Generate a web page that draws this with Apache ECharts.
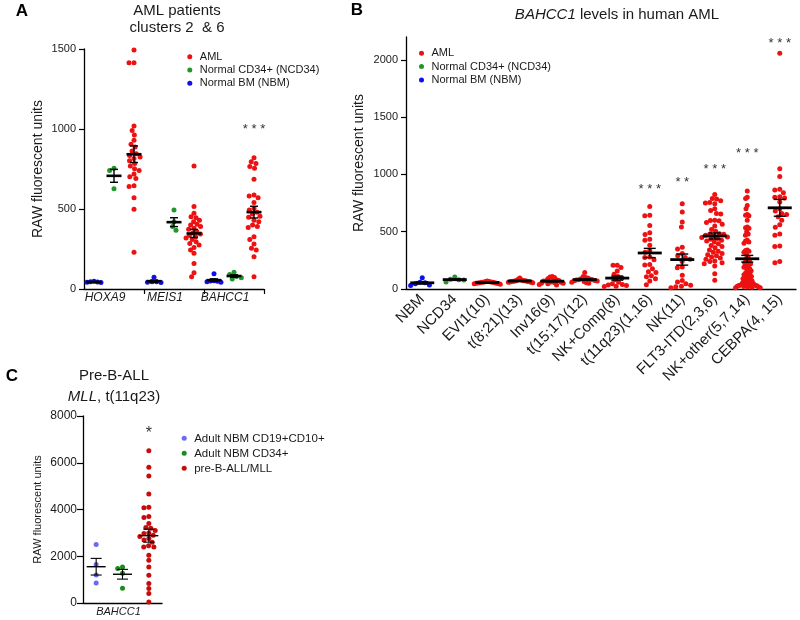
<!DOCTYPE html>
<html><head><meta charset="utf-8">
<script src="https://cdn.jsdelivr.net/npm/echarts@6/dist/echarts.min.js"></script>
<style>html,body{margin:0;padding:0;background:#fff}#c{width:800px;height:620px}</style>
</head><body><div id="c"></div>
<script>
// ---------- DATA ----------
// Panel A : AML patients clusters 2 & 6
const A_GENES = ['HOXA9', 'MEIS1', 'BAHCC1'];
const A_HOXA9_NBM = [48, 44, 40, 46, 42];
const A_HOXA9_NCD34 = [755, 740, 627];
const A_HOXA9_AML = [1494, 1414, 1414, 1019, 990, 962, 930, 905, 887, 862, 845, 835, 825, 816, 802, 785, 769, 752, 740, 719, 702, 690, 646, 640, 571, 498, 229];
const A_MEIS1_NBM = [73, 45, 40, 42, 45];
const A_MEIS1_NCD34 = [494, 420, 390, 367];
const A_MEIS1_AML = [769, 515, 473, 452, 446, 430, 421, 405, 400, 390, 380, 373, 358, 350, 344, 335, 327, 318, 310, 296, 285, 275, 260, 244, 223, 160, 102, 77];
const A_BAHCC1_NBM = [95, 50, 45, 48, 52, 42];
const A_BAHCC1_NCD34 = [105, 90, 70, 62, 78];
const A_BAHCC1_AML = [821, 795, 785, 765, 754, 686, 570, 588, 581, 540, 505, 494, 480, 469, 455, 448, 430, 421, 400, 390, 385, 327, 310, 281, 254, 244, 202, 77];
const A_SIG = [{ x: 8, y: 1000, t: '* * *' }];

// Panel B : BAHCC1 levels in human AML
const B_CATEGORIES = ['NBM', 'NCD34', 'EVI1(10)', 't(8;21)(13)', 'Inv16(9)', 't(15;17)(12)', 'NK+Comp(8)', 't(11q23)(1,16)', 'NK(11)', 'FLT3-ITD(2,3,6)', 'NK+other(5,7,14)', 'CEBPA(4, 15)'];
const B_NBM = [99, 55, 30, 35, 45, 60];
const B_NCD34 = [105, 85, 80, 62, 78];
const B_EVI1 = [70, 65, 62, 60, 58, 55, 52, 50, 48, 45, 42, 60, 66, 55, 50];
const B_T821 = [95, 85, 80, 75, 72, 70, 68, 65, 62, 60, 58, 70, 75, 66, 64, 55];
const B_INV16 = [110, 105, 100, 90, 80, 75, 70, 65, 60, 55, 50, 45, 40, 35, 60, 70, 50];
const B_T1517 = [143, 110, 100, 95, 90, 85, 80, 78, 75, 70, 65, 60, 55, 50, 80, 72];
const B_NKCOMP = [207, 207, 187, 157, 128, 110, 95, 80, 60, 45, 35, 25, 30, 40, 22];
const B_T11Q23 = [721, 643, 640, 555, 490, 475, 435, 425, 381, 337, 320, 279, 275, 256, 213, 210, 176, 150, 145, 115, 108, 90, 70, 38];
const B_NK = [744, 672, 584, 541, 365, 350, 309, 290, 274, 260, 240, 192, 185, 119, 75, 61, 45, 32, 25, 20, 10];
const B_FLT3 = [826, 790, 785, 770, 755, 750, 745, 700, 686, 660, 655, 600, 599, 595, 580, 565, 550, 520, 505, 483, 480, 478, 470, 465, 455, 450, 440, 435, 425, 420, 410, 395, 380, 370, 360, 340, 330, 320, 310, 300, 290, 280, 270, 260, 244, 240, 230, 220, 200, 134, 76];
const B_NKOTHER = [855, 802, 790, 730, 700, 650, 643, 640, 600, 541, 535, 530, 500, 480, 470, 425, 420, 410, 400, 340, 337, 330, 320, 300, 280, 260, 250, 240, 230, 220, 210, 200, 190, 180, 170, 160, 150, 140, 130, 125, 120, 110, 100, 95, 90, 80, 75, 70, 60, 55, 50, 45, 40, 38, 35, 32, 30, 28, 25, 22, 20, 18, 15, 12, 10];
const B_CEBPA = [2058, 1050, 983, 870, 865, 840, 805, 800, 795, 760, 700, 660, 680, 650, 630, 600, 560, 540, 480, 470, 375, 370, 240, 230];
const B_Y_TICKS = [0, 500, 1000, 1500, 2000];
const B_SIG = [
  { x: 7, y: 870, t: '* * *' }, { x: 8, y: 929, t: '* *' }, { x: 9, y: 1045, t: '* * *' },
  { x: 10, y: 1185, t: '* * *' }, { x: 11, y: 2145, t: '* * *' }
];

// Panel C : Pre-B-ALL MLL t(11q23)
const C_GROUPS = ['Adult NBM CD19+CD10+', 'Adult NBM CD34+', 'pre-B-ALL/MLL'];
const C_CD19 = [2503, 1650, 1200, 857];
const C_CD34 = [1540, 1480, 1270, 630];
const C_PREB = [6515, 5803, 5430, 4659, 4100, 4070, 3700, 3660, 3403, 3231, 3200, 3100, 3000, 2974, 2900, 2850, 2760, 2700, 2600, 2450, 2400, 2400, 2044, 1830, 1543, 1187, 831, 617, 403, 43];
const C_SIG = [{ x: 2, y: 7250, t: '*' }];

// ---------- STYLE / LAYOUT ----------
const FONT = "'Liberation Sans', Arial, Helvetica, sans-serif";
const TXT = '#1a1a1a';
const RED = '#ee1111', GREEN = '#23952a', BLUE = '#1010e8';
const C_BLUE = '#6a6af2', C_GREEN = '#1a8c1a', C_RED = '#c80c0c';
const GA = { left: 84, top: 49, width: 180, height: 240 };
const GB = { left: 406, top: 37, width: 390, height: 252 };
const GC = { left: 83, top: 416, width: 79, height: 187 };
const A_MAX = 1500, B_MAX = 2200, C_MAX = 8000;

function mean(a) { return a.reduce((s, v) => s + v, 0) / a.length; }
function sem(a) {
  const m = mean(a);
  const v = a.reduce((s, x) => s + (x - m) * (x - m), 0) / (a.length - 1);
  return Math.sqrt(v) / Math.sqrt(a.length);
}
// beeswarm offsets (pixels) computed from the values
function swarm(vals, pxPer, d, maxHalf) {
  const idx = vals.map((v, i) => i).sort((a, b) => vals[b] - vals[a]);
  const placed = [], off = new Array(vals.length).fill(0);
  idx.forEach(i => {
    const y = vals[i] * pxPer;
    const blocks = [];
    placed.forEach(p => {
      const dy = Math.abs(p.y - y);
      if (dy < d) { const w = Math.sqrt(d * d - dy * dy); blocks.push([p.x - w, p.x + w]); }
    });
    const cands = [0];
    blocks.forEach(b => cands.push(b[0], b[1]));
    cands.sort((a, b) => (Math.abs(a) - Math.abs(b)) || (a - b));
    let x = 0;
    for (const c of cands) {
      if (blocks.every(b => c <= b[0] + 1e-6 || c >= b[1] - 1e-6)) { x = c; break; }
    }
    placed.push({ x, y }); off[i] = x;
  });
  const m = Math.max(...off.map(Math.abs));
  if (m > maxHalf) for (let k = 0; k < off.length; k++) off[k] *= maxHalf / m;
  return off;
}
function dots(vals, xi, pxPer, maxHalf) {
  const off = swarm(vals, pxPer, 5, maxHalf);
  return vals.map((v, i) => ({ value: [xi, v], symbolOffset: [off[i], 0] }));
}
function scatter(name, color, xAxisIndex, yAxisIndex, data) {
  return { type: 'scatter', name, xAxisIndex, yAxisIndex, symbol: 'circle', symbolSize: 5,
    itemStyle: { color, opacity: 1 }, data, z: 2, silent: true };
}
function meanSeries(xAxisIndex, yAxisIndex, groups, halfW, capW, meanLW, errLW) {
  return {
    type: 'custom', xAxisIndex, yAxisIndex, z: 10, silent: true,
    data: groups.map(g => [g[0], mean(g[1]), sem(g[1])]),
    renderItem(params, api) {
      const x = api.value(0), m = api.value(1), s = api.value(2);
      const c = api.coord([x, m]), t = api.coord([x, m + s]), b = api.coord([x, m - s]);
      const st = lw => ({ stroke: '#000', lineWidth: lw });
      return { type: 'group', children: [
        { type: 'line', shape: { x1: c[0], y1: t[1], x2: c[0], y2: b[1] }, style: st(errLW) },
        { type: 'line', shape: { x1: c[0] - capW, y1: t[1], x2: c[0] + capW, y2: t[1] }, style: st(errLW) },
        { type: 'line', shape: { x1: c[0] - capW, y1: b[1], x2: c[0] + capW, y2: b[1] }, style: st(errLW) },
        { type: 'line', shape: { x1: c[0] - halfW, y1: c[1], x2: c[0] + halfW, y2: c[1] }, style: st(meanLW) }
      ] };
    }
  };
}
function sigSeries(xAxisIndex, yAxisIndex, items, fs) {
  return {
    type: 'custom', xAxisIndex, yAxisIndex, z: 11, silent: true,
    data: items.map(s => [s.x, s.y]),
    renderItem(params, api) {
      const p = api.coord([api.value(0), api.value(1)]);
      return { type: 'text', x: p[0], y: p[1], style: { text: items[params.dataIndex].t, fill: '#333',
        font: fs + 'px ' + FONT, align: 'center', verticalAlign: 'middle', textAlign: 'center', textVerticalAlign: 'middle' } };
    }
  };
}
const plain = v => String(v);
const axisLineStyle = { show: true, lineStyle: { color: '#000', width: 1.3 } };
function yAxis(gridIndex, max, interval, name, nameGap, nameSize, labelSize, extra) {
  return Object.assign({
    type: 'value', gridIndex, min: 0, max, interval, name, nameLocation: 'middle', nameRotate: 90, nameGap,
    nameTextStyle: { fontSize: nameSize, color: TXT, fontFamily: FONT },
    axisLine: axisLineStyle, splitLine: { show: false },
    axisTick: { show: true, length: 5, lineStyle: { color: '#000', width: 1.2 } },
    axisLabel: { fontSize: labelSize, color: TXT, fontFamily: FONT, margin: 8, formatter: plain }
  }, extra || {});
}

const pxA = GA.height / A_MAX, pxB = GB.height / B_MAX, pxC = GC.height / C_MAX;

const legendBase = (data, left, top, fs, lh) => ({
  data, left, top, orient: 'vertical', icon: 'circle', itemWidth: 10, itemHeight: 5, itemGap: 0.3,
  selectedMode: false, padding: 0,
  textStyle: { fontSize: fs, lineHeight: lh, color: TXT, fontFamily: FONT }
});

const bGroups = [B_EVI1, B_T821, B_INV16, B_T1517, B_NKCOMP, B_T11Q23, B_NK, B_FLT3, B_NKOTHER, B_CEBPA];

const option = {
  animation: false,
  backgroundColor: '#fff',
  textStyle: { fontFamily: FONT },
  grid: [
    Object.assign({ containLabel: false }, GA),
    Object.assign({ containLabel: false }, GB),
    Object.assign({ containLabel: false }, GC)
  ],
  xAxis: [
    { type: 'category', gridIndex: 0, data: [0, 1, 2, 3, 4, 5, 6, 7, 8].map(String), show: false, position: 'bottom' },
    { type: 'category', gridIndex: 0, data: A_GENES, position: 'bottom', axisLine: axisLineStyle,
      axisTick: { show: true, length: 5, interval: (i) => i === 1 || i === 2, lineStyle: { color: '#000', width: 1.2 } },
      axisLabel: { fontSize: 12, fontStyle: 'italic', interval: 0, color: TXT, fontFamily: FONT, margin: 3, padding: [0, 18, 0, 0] } },
    { type: 'category', gridIndex: 1, data: B_CATEGORIES, position: 'bottom', axisLine: axisLineStyle,
      axisTick: { show: false },
      axisLabel: { fontSize: 15, rotate: 45, interval: 0, color: TXT, fontFamily: FONT, margin: 8 } },
    { type: 'category', gridIndex: 2, data: C_GROUPS, show: false, position: 'bottom' },
    { type: 'category', gridIndex: 2, data: ['BAHCC1'], position: 'bottom', axisLine: axisLineStyle,
      axisTick: { show: false },
      axisLabel: { fontSize: 11, fontStyle: 'italic', interval: 0, color: TXT, fontFamily: FONT, margin: 3, padding: [0, 8, 0, 0] } }
  ],
  yAxis: [
    yAxis(0, A_MAX, 500, 'RAW fluorescent units', 39, 14, 11),
    yAxis(1, B_MAX, 500, 'RAW fluorescent units', 40, 14, 11, {
      axisLabel: { fontSize: 11, color: TXT, fontFamily: FONT, margin: 8, customValues: B_Y_TICKS, formatter: plain },
      axisTick: { show: true, length: 5, customValues: B_Y_TICKS, lineStyle: { color: '#000', width: 1.2 } }
    }),
    yAxis(2, C_MAX, 2000, 'RAW fluorescent units', 40, 11, 12, {
      axisTick: { show: true, length: 6, lineStyle: { color: '#000', width: 1.2 } },
      axisLabel: { fontSize: 12, color: TXT, fontFamily: FONT, margin: 6, formatter: plain }
    })
  ],
  legend: [
    legendBase(['AML', 'Normal CD34+ (NCD34)', 'Normal BM (NBM)'], 187.3, 50.2, 11, 13),
    legendBase(['AML', 'Normal CD34+ (NCD34)', 'Normal BM (NBM)'], 419, 46.8, 11, 13),
    legendBase(C_GROUPS, 181.7, 431, 11.5, 14.7)
  ],
  series: [
    // Panel A
    scatter('AML', RED, 0, 0, [].concat(dots(A_HOXA9_AML, 2, pxA, 8), dots(A_MEIS1_AML, 5, pxA, 8), dots(A_BAHCC1_AML, 8, pxA, 8))),
    scatter('Normal CD34+ (NCD34)', GREEN, 0, 0, [].concat(dots(A_HOXA9_NCD34, 1, pxA, 8), dots(A_MEIS1_NCD34, 4, pxA, 8), dots(A_BAHCC1_NCD34, 7, pxA, 8))),
    scatter('Normal BM (NBM)', BLUE, 0, 0, [].concat(dots(A_HOXA9_NBM, 0, pxA, 7), dots(A_MEIS1_NBM, 3, pxA, 7), dots(A_BAHCC1_NBM, 6, pxA, 7))),
    meanSeries(0, 0, [[0, A_HOXA9_NBM], [1, A_HOXA9_NCD34], [2, A_HOXA9_AML], [3, A_MEIS1_NBM], [4, A_MEIS1_NCD34], [5, A_MEIS1_AML],
      [6, A_BAHCC1_NBM], [7, A_BAHCC1_NCD34], [8, A_BAHCC1_AML]], 7.5, 4, 2.6, 1.4),
    sigSeries(0, 0, A_SIG, 13),
    // Panel B
    scatter('AML', RED, 2, 1, [].concat(...bGroups.map((g, i) => dots(g, i + 2, pxB, 13)))),
    scatter('Normal CD34+ (NCD34)', GREEN, 2, 1, dots(B_NCD34, 1, pxB, 13)),
    scatter('Normal BM (NBM)', BLUE, 2, 1, dots(B_NBM, 0, pxB, 13)),
    meanSeries(2, 1, [[0, B_NBM], [1, B_NCD34]].concat(bGroups.map((g, i) => [i + 2, g])), 12, 6, 2.8, 1.4),
    sigSeries(2, 1, B_SIG, 13),
    // Panel C
    scatter(C_GROUPS[0], C_BLUE, 3, 2, dots(C_CD19, 0, pxC, 9)),
    scatter(C_GROUPS[1], C_GREEN, 3, 2, dots(C_CD34, 1, pxC, 9)),
    scatter(C_GROUPS[2], C_RED, 3, 2, dots(C_PREB, 2, pxC, 9)),
    meanSeries(3, 2, [[0, C_CD19], [1, C_CD34], [2, C_PREB]], 9.5, 5.5, 1.4, 1.1),
    sigSeries(3, 2, C_SIG, 16)
  ],
  graphic: [
    { type: 'text', x: 22, y: 11, style: { text: 'A', font: 'bold 17px ' + FONT, fill: '#000', align: 'center', verticalAlign: 'middle', textAlign: 'center', textVerticalAlign: 'middle' } },
    { type: 'text', x: 177, y: 11, style: { text: 'AML patients', font: '15px ' + FONT, fill: TXT, align: 'center', verticalAlign: 'middle', textAlign: 'center', textVerticalAlign: 'middle' } },
    { type: 'text', x: 177, y: 28, style: { text: 'clusters 2  & 6', font: '15px ' + FONT, fill: TXT, align: 'center', verticalAlign: 'middle', textAlign: 'center', textVerticalAlign: 'middle' } },
    { type: 'text', x: 357, y: 10, style: { text: 'B', font: 'bold 17px ' + FONT, fill: '#000', align: 'center', verticalAlign: 'middle', textAlign: 'center', textVerticalAlign: 'middle' } },
    { type: 'text', x: 617, y: 15, style: { text: '{i|BAHCC1}{n| levels in human AML}', align: 'center', verticalAlign: 'middle', textAlign: 'center', textVerticalAlign: 'middle',
      rich: { i: { fontStyle: 'italic', fontSize: 15, fontFamily: FONT, fill: TXT, color: TXT }, n: { fontSize: 15, fontFamily: FONT, fill: TXT, color: TXT } } } },
    { type: 'text', x: 12, y: 376, style: { text: 'C', font: 'bold 17px ' + FONT, fill: '#000', align: 'center', verticalAlign: 'middle', textAlign: 'center', textVerticalAlign: 'middle' } },
    { type: 'text', x: 114, y: 376, style: { text: 'Pre-B-ALL', font: '15px ' + FONT, fill: TXT, align: 'center', verticalAlign: 'middle', textAlign: 'center', textVerticalAlign: 'middle' } },
    { type: 'text', x: 114, y: 397, style: { text: '{i|MLL}{n|, t(11q23)}', align: 'center', verticalAlign: 'middle', textAlign: 'center', textVerticalAlign: 'middle',
      rich: { i: { fontStyle: 'italic', fontSize: 15, fontFamily: FONT, fill: TXT, color: TXT }, n: { fontSize: 15, fontFamily: FONT, fill: TXT, color: TXT } } } }
  ]
};
const chart = echarts.init(document.getElementById('c'), null, { renderer: 'canvas' });
chart.setOption(option);
</script></body></html>
